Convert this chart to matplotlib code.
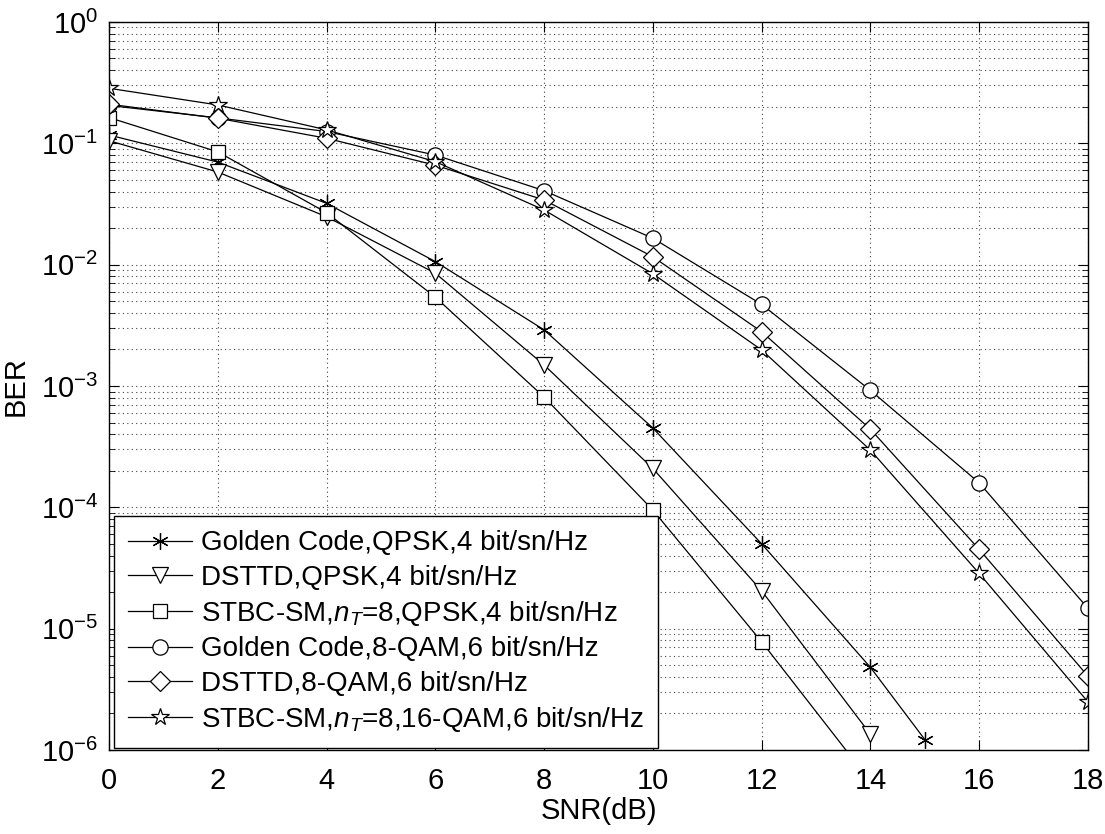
import numpy as np
import matplotlib
matplotlib.use('Agg')
import matplotlib.pyplot as plt

plt.rcParams['font.family'] = ['Liberation Sans', 'DejaVu Sans']
plt.rcParams['mathtext.fontset'] = 'custom'
plt.rcParams['mathtext.rm'] = 'Liberation Sans'
plt.rcParams['mathtext.it'] = 'Liberation Sans:italic'

# SNR points (dB)
snr = [0, 2, 4, 6, 8, 10, 12, 14]
snr_gc_qpsk = [0, 2, 4, 6, 8, 10, 12, 14, 15]

# BER
gc_qpsk = [0.117, 0.070, 0.032, 0.0106, 0.0029, 4.5e-4, 5.0e-5, 4.8e-6, 1.22e-6]
dsttd_qpsk = [0.105, 0.058, 0.0248, 0.0085, 1.49e-3, 2.09e-4, 2.05e-5, 1.35e-6]
stbc_qpsk = [0.163, 0.085, 0.0268, 0.0054, 8.1e-4, 9.5e-5, 7.8e-6, 5.5e-7]

snr_hi = [0, 2, 4, 6, 8, 10, 12, 14, 16, 18]
gc_8qam = [0.205, 0.162, 0.125, 0.080, 0.0407, 0.0165, 4.7e-3, 9.2e-4, 1.59e-4, 1.47e-5]
dsttd_8qam = [0.21, 0.161, 0.11, 0.066, 0.0341, 0.0116, 2.8e-3, 4.4e-4, 4.5e-5, 4.06e-6]
stbc_16qam = [0.284, 0.207, 0.129, 0.0706, 0.0282, 0.0084, 1.98e-3, 2.96e-4, 2.85e-5, 2.49e-6]

labels = ['Golden Code,QPSK,4 bit/sn/Hz',
          'DSTTD,QPSK,4 bit/sn/Hz',
          'STBC-SM,$n_T$=8,QPSK,4 bit/sn/Hz',
          'Golden Code,8-QAM,6 bit/sn/Hz',
          'DSTTD,8-QAM,6 bit/sn/Hz',
          'STBC-SM,$n_T$=8,16-QAM,6 bit/sn/Hz']

fig = plt.figure(figsize=(11.05, 8.34), dpi=100)
ax = fig.add_axes([0.0986, 0.1007, 0.886, 0.873])

kw = dict(color='black', linewidth=0.9, markerfacecolor='white',
          markeredgecolor='black', markeredgewidth=0.9)
ax.semilogy(snr_gc_qpsk, gc_qpsk, marker=(6, 2, 0), markersize=12, label=labels[0], **kw)
ax.semilogy(snr, dsttd_qpsk, marker='v', markersize=11, label=labels[1], **kw)
ax.semilogy(snr, stbc_qpsk, marker='s', markersize=10, label=labels[2], **kw)
ax.semilogy(snr_hi, gc_8qam, marker='o', markersize=11, label=labels[3], **kw)
ax.semilogy(snr_hi, dsttd_8qam, marker='D', markersize=10, label=labels[4], **kw)
ax.semilogy(snr_hi, stbc_16qam, marker='*', markersize=13, label=labels[5], **kw)

ax.set_xlim(0, 18)
ax.set_ylim(1e-6, 1)
ax.set_xticks(range(0, 19, 2))
ax.yaxis.set_major_locator(matplotlib.ticker.LogLocator(base=10, numticks=10))
ax.yaxis.set_minor_locator(matplotlib.ticker.LogLocator(base=10, subs=np.arange(2, 10), numticks=20))
ax.yaxis.set_minor_formatter(matplotlib.ticker.NullFormatter())

# dotted grid, MATLAB style
grid_style = dict(linestyle=(0, (1, 3)), color='#444444', linewidth=0.8)
ax.grid(True, which='major', **grid_style)
ax.grid(True, which='minor', axis='y', **grid_style)
ax.tick_params(which='both', direction='in', top=True, right=True, labelsize=21)
ax.tick_params(which='major', length=7)
ax.tick_params(axis='x', which='major', pad=12)
ax.tick_params(axis='y', which='major', pad=8)
ax.tick_params(which='minor', length=4)
for s in ax.spines.values():
    s.set_linewidth(1.0)

ax.set_xlabel('SNR(dB)', fontsize=21, labelpad=2)
ax.set_ylabel('BER', fontsize=21, labelpad=8)

leg = ax.legend(loc='lower left', bbox_to_anchor=(0.005, 0.003), borderaxespad=0,
                fontsize=20, fancybox=False, framealpha=1, edgecolor='black',
                handlelength=2.3, labelspacing=0.3, handletextpad=0.35,
                borderpad=0.5)
leg.get_frame().set_linewidth(1.0)

fig.savefig('out.png', dpi=100)
